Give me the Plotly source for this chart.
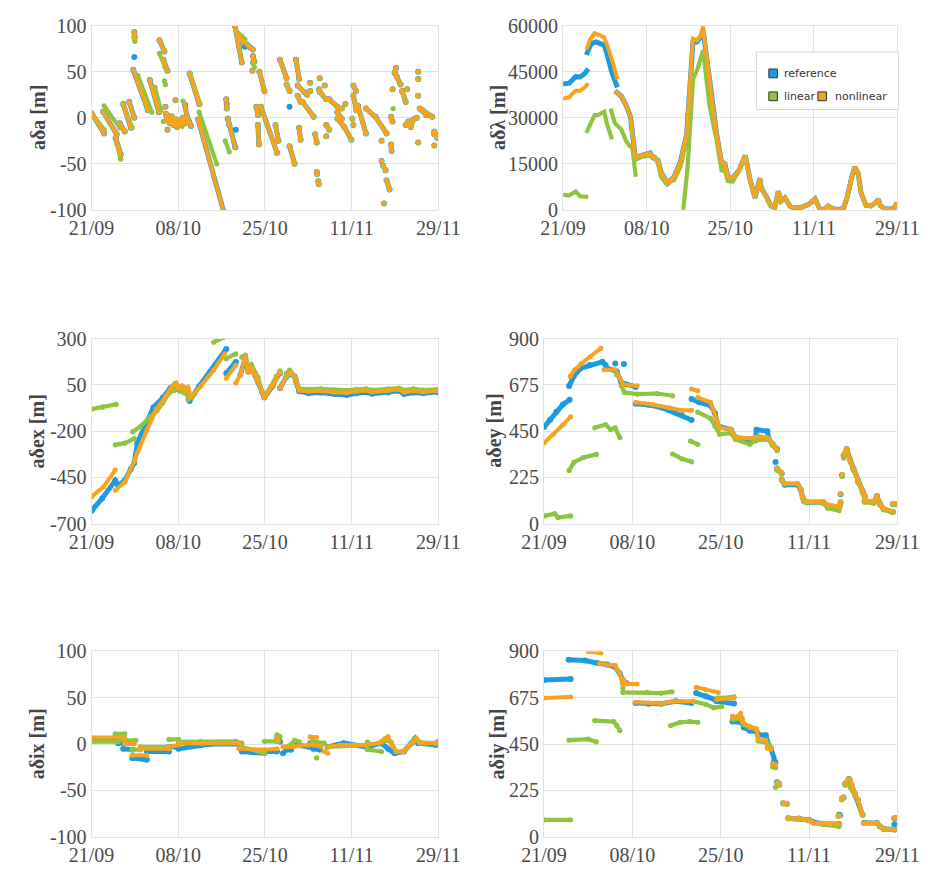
import pandas as pd
import plotly.graph_objects as go

# ---------------------------------------------------------------------------
# Orbit-element differences (days since 21/09, value in metres).
# Each series is a list of segments; a segment is a list of (day, value) pairs.
# ---------------------------------------------------------------------------

# --- a·δa -------------------------------------------------------------------
ada_ref_nonlin = [
    [(0, 5), (2.5, -17)],
    [(2.3, 6.5), (5, -18)],
    [(4.8, -22), (5.8, -40)],
    [(5.6, -6), (6.6, -15)],
    [(6.3, 15), (7.8, -11)],
    [(7.5, 17), (8.5, 0)],
    [(8.5, 93), (8.6, 87)],
    [(8.3, 52), (11.2, 8)],
    [(11.6, 41), (13.4, 6)],
    [(13.5, 84), (14.5, 72)],
    [(14.3, 63), (15.1, 51)],
    [(14.8, 4), (15.0, -3), (15.3, 2), (15.6, -6), (16.0, 1), (16.3, -8), (16.7, -2),
     (17.0, -10), (17.4, -3), (17.8, -7), (18.2, 0), (18.6, -6), (19.0, 2), (19.4, -4), (19.8, -9)],
    [(18.6, 14), (19.1, -4)],
    [(15.1, -13)], [(16.7, 19)], [(14.7, 12)],
    [(19.5, 48), (21.4, 15)],
    [(21.2, -2), (26.3, -102)],
    [(26.8, 20), (26.9, 10)],
    [(27.1, -1), (27.4, -8), (28.6, -32)],
    [(28.5, 100), (29.3, 78), (29.9, 60)],
    [(29.3, 88), (29.8, 84), (30.4, 82), (31.0, 79), (31.6, 76), (32.1, 74)],
    [(32.1, 67), (32.4, 61)],
    [(32.0, 51)],
]
ada_all = [
    [(33.4, 50), (34.4, 29)],
    [(32.8, 12), (33.1, 3)],
    [(33.1, -8), (33.3, -29)],
    [(33.7, 12), (36.9, -38)],
    [(36.6, -8), (37.2, -25)],
    [(37.5, 63), (38.8, 43)],
    [(38.8, 36), (39.4, 29)],
    [(39.4, -31), (40.4, -50)],
    [(40.7, 63), (41.3, 42)],
    [(41.0, 35), (42.3, 28)],
    [(41.0, 24), (41.6, 17)],
    [(41.3, -11), (41.6, -24)],
    [(42.0, 17), (44.2, 1)],
    [(42.9, 25)], [(43.5, 38)], [(43.5, 29)],
    [(44.5, -18), (44.8, -27)],
    [(44.8, -59), (44.9, -61)],
    [(45.1, -69), (45.2, -72)],
    [(45.4, 43)], [(45.3, 31)], [(46.4, 35)],
    [(45.4, 28), (46.7, 20)],
    [(46.7, -8), (47.3, -13)], [(46.7, -20)],
    [(47.3, 20), (48.9, 12)],
    [(48.9, 6), (49.8, -1)],
    [(49.8, 10)],
    [(48.9, -1), (50.3, -10), (51.7, -24)],
    [(50.5, 15)],
    [(52.1, 35), (52.6, 29)],
    [(52.1, 24), (52.7, 8)],
    [(51.9, -1)], [(52.1, -8)],
    [(53.0, 13), (54.6, -17)],
    [(54.6, 10), (56.5, 1), (58.7, -17)],
    [(57.7, -25)], [(57.7, -47)], [(58.0, -52)], [(58.5, -57)],
    [(58.7, -68), (59.3, -78)],
    [(58.2, -93)],
    [(59.6, 1), (59.9, -4)],
    [(59.6, -29), (59.7, -36)],
    [(59.9, 31)],
    [(60.3, 49), (60.8, 44), (61.5, 36)],
    [(60.6, 54)],
    [(61.8, 29), (62.5, 17)],
    [(62.8, 31)],
    [(62.5, -8), (63.0, -4), (63.5, -10), (64.0, -2), (64.7, 0)],
    [(65.0, 50)], [(65.0, 42)], [(65.0, 24)],
    [(65.3, 10), (66.6, 3)],
    [(65.9, 8), (67.8, 1)],
    [(65.0, -27)], [(68.2, -30)], [(68.2, -18)],
    [(68.2, -15), (68.8, -22)],
]
ada_linear_own = [
    [(0, 5), (2.5, -13)],
    [(2.5, 13), (5.6, -11)],
    [(5.0, -28), (5.8, -45)],
    [(6.6, 10), (8.1, -11)],
    [(8.4, 88), (8.6, 83)],
    [(9.2, 46), (12.0, 6)],
    [(12.6, 33), (13.8, 8)],
    [(13.5, 70), (14.6, 55)],
    [(14.5, 40), (14.7, 36)],
    [(14.3, -4)],
    [(15, 0), (15.5, -4), (16, 2), (16.5, -6), (17, -2), (17.5, -5), (18, -9), (18.5, -3), (19, -5)],
    [(18.2, 18)],
    [(19.6, 48), (21.6, 15)],
    [(21.4, 6), (24.9, -50)],
    [(26.6, -25), (27.4, -37)],
    [(28.7, 95), (30.0, 88), (30.5, 85)],
    [(32.0, 60), (32.4, 55)],
    [(60.0, 10)],
]
ada_reference_own = [[(8.5, 66)], [(28.7, -13)], [(30.5, 77)], [(39.4, 12)], [(26.9, 15)]]

# --- a·δλ -------------------------------------------------------------------
adl_reference_start = [
    [(0, 40945), (1.25, 41260), (2.6, 43380), (3.5, 43270), (4.5, 44440), (5.2, 45920)],
    [(4.8, 50470), (5.8, 54170), (6.8, 54700), (8.1, 54170), (8.5, 53640), (9.1, 50470),
     (10.1, 44650), (11.2, 39890)],
]
adl_nonlinear_start = [
    [(0, 36180), (1.25, 36710), (2.6, 38830), (3.5, 38830), (4.5, 39890), (5.2, 41260)],
    [(4.85, 52270), (5.5, 55230), (6.5, 57560), (7.5, 56800), (8.4, 56280), (9.1, 53640),
     (10.1, 48880), (11.2, 42530)],
]
adl_rise = [(10.7, 38800), (12.05, 37000), (13.0, 34070), (13.9, 30360), (14.9, 17140),
            (16.3, 17880), (18.0, 18500), (18.4, 17140), (19.6, 16080), (20.2, 12380),
            (21.6, 8680), (22.9, 10800), (24.2, 15550), (25.5, 24550)]
adl_reference_peak = [(26.8, 54700), (27.6, 54700), (28.4, 56300), (28.9, 58600), (29.8, 46760)]
adl_nonlinear_peak = [(26.8, 55760), (27.6, 55230), (28.4, 56800), (28.9, 59670), (29.8, 46760)]
adl_fall = [(30.7, 36180), (31.7, 24550), (32.7, 15550), (33.4, 15020), (34.0, 10580),
            (35.0, 10260), (36.3, 12910)]
adl_tail = [(37.6, 17670), (38.6, 9730), (39.6, 3910), (40.6, 10260), (40.9, 7090),
            (41.9, 4440), (42.9, 1270), (43.7, 740), (44.4, 6030), (45.0, 2860), (45.8, 3910),
            (46.8, 1270), (47.4, 740), (49.1, 740), (50.7, 1800), (52.0, 3600), (53.0, 210),
            (53.7, 0), (54.7, 1270), (55.6, 420), (56.9, 0), (57.9, 740), (58.6, 3910),
            (59.6, 10800), (60.2, 13960), (60.9, 11850), (61.5, 5500), (62.5, 1480),
            (63.5, 1270), (64.5, 2330), (65.1, 3390), (65.5, 1270), (66.4, 420), (67.4, 210),
            (68.4, 740), (68.9, 2330)]
adl_linear = [
    [(0, 4970), (1.2, 4650), (2.6, 6030), (3.5, 4440), (5.2, 4230)],
    [(4.8, 25070), (5.5, 27720), (6.5, 30890), (7.2, 30890), (7.8, 31420), (8.5, 31950),
     (9.1, 27720), (10.1, 22960)],
    [(9.8, 33000), (10.7, 28250), (12.05, 26130), (13.0, 22430), (13.7, 20840), (14.3, 20310),
     (15.0, 10800)],
    [(14.7, 16080), (16.3, 17350), (18.0, 17670), (18.9, 17350), (19.6, 15020), (20.2, 10800),
     (21.2, 8680), (22.9, 9730), (24.2, 13960), (25.2, 20840)],
    [(24.8, 0), (25.7, 13960), (26.8, 42530), (27.7, 45700), (28.9, 52050), (29.4, 45700),
     (30.2, 34070), (31.7, 22500), (32.7, 12900), (33.4, 12800), (34.0, 9400), (35.0, 9200),
     (36.3, 12600)],
]

# --- a·δex ------------------------------------------------------------------
adex_reference = [
    [(0, -630), (2.1, -563), (4.7, -467), (5.3, -493), (6.6, -467), (7.8, -405), (8.5, -370),
     (9.1, -265), (10.7, -160), (12.3, -72), (14.2, -19), (15.7, 33), (16.7, 54), (17.3, 25),
     (18.0, 40), (18.6, 16), (19.0, 30), (19.5, -37), (21.4, 42), (23.6, 121), (26.8, 244)],
    [(26.8, 112), (28.7, 174)],
    [(29.6, 104), (30.6, 195), (31.2, 121), (31.8, 139), (32.5, 104), (33.1, 69), (34.0, 7),
     (34.4, -19), (36.0, 42), (36.9, 95), (37.5, 112)],
    [(37.5, 33), (38.8, 95), (39.7, 112), (40.4, 95), (40.7, 68), (41.3, 16), (43.2, 5),
     (45.6, 8), (48.3, 0), (50.8, -5), (52.7, 5), (54.6, 10), (55.8, 2), (59.0, 8), (61.2, 18),
     (62.2, 0), (64.1, 8), (66.0, 5), (68.9, 12)],
]
adex_linear = [
    [(0, -81), (2.2, -70), (4.9, -55)],
    [(4.7, -274), (6.6, -265), (8.5, -240)],
    [(8.2, -203), (9.7, -175), (11.6, -124), (13.0, -90), (14.2, -45), (15.4, 5), (16.4, 20),
     (17.1, 35), (17.7, 15), (18.6, 5), (19.2, -10)],
    [(19.2, -30), (20.5, 0)],
    [(24.3, 280), (26.2, 305)],
    [(26.8, 191), (28.7, 218)],
    [(29.9, 200), (30.6, 210)],
    [(30.6, 205), (31.2, 140), (31.8, 160), (32.5, 115), (33.1, 90), (34.0, 10), (34.4, -10)],
    [(34.6, -5), (36.3, 68), (37.5, 125)],
    [(38.8, 112), (39.4, 130)],
    [(39.7, 115), (40.7, 80), (41.3, 30), (43.2, 25), (45.6, 28), (48.3, 22), (50.8, 20),
     (52.7, 25), (54.6, 28), (55.8, 22), (59.0, 28), (61.2, 32), (62.2, 22), (64.1, 28),
     (66.0, 22), (68.9, 25)],
]
adex_nonlinear = [
    [(0, -554), (2.4, -500), (4.7, -410)],
    [(4.7, -519), (6.6, -475), (8.5, -361), (9.1, -317), (11.0, -195), (12.9, -81), (14.8, -11),
     (16.0, 42), (16.8, 58), (17.3, 30), (18.0, 45), (18.6, 20), (19.2, 35), (19.8, -19),
     (21.7, 42), (24.3, 130), (26.5, 218)],
    [(26.8, 86), (28.7, 156)],
    [(28.7, 60), (29.6, 104), (30.6, 200), (31.2, 121), (31.8, 139), (32.5, 104), (33.1, 69),
     (34.0, 7), (34.4, -19), (36.0, 45), (36.9, 95), (37.5, 115)],
    [(37.5, 33), (38.8, 95), (39.7, 115), (40.4, 95), (40.7, 68), (41.3, 20), (43.2, 15),
     (45.6, 18), (48.3, 10), (50.8, 8), (52.7, 15), (54.6, 20), (55.8, 12), (59.0, 18),
     (61.2, 25), (62.2, 10), (64.1, 18), (66.0, 12), (68.9, 18)],
]

# --- a·δey ------------------------------------------------------------------
adey_reference = [
    [(0, 470), (1.2, 505), (2.4, 544), (3.7, 580), (5.0, 602)],
    [(4.9, 669), (5.8, 717), (7.1, 755), (8.9, 771), (11.4, 787), (12.0, 771)],
    [(13.9, 779)], [(15.6, 776)],
    [(12.3, 756), (14.2, 740), (15.1, 685), (16.1, 677), (17.9, 665)],
    [(17.9, 583), (20.4, 578), (22.9, 565), (24.4, 551), (26.9, 528), (28.8, 504)],
    [(28.8, 606), (30.3, 590), (32.5, 575), (33.4, 536), (34.0, 474), (36.5, 457), (37.4, 418),
     (40.2, 410), (41.2, 405), (41.5, 457), (43.6, 449), (43.9, 410), (44.6, 387), (45.5, 363)],
    [(45.2, 300)],
    [(45.5, 269), (46.4, 245)],
    [(46.4, 214), (47.0, 190), (49.5, 190), (50.1, 167), (50.5, 127), (50.8, 111), (51.4, 104),
     (54.5, 104), (55.4, 88), (57.6, 80), (57.9, 104)],
    [(57.9, 143)], [(58.2, 237)],
    [(58.5, 331), (59.1, 363), (59.8, 308), (60.4, 269), (61.3, 206), (62.2, 159), (62.6, 135),
     (62.6, 111), (64.4, 104), (65.0, 135), (65.6, 96), (66.3, 72), (68.1, 57)],
    [(68.1, 96), (69, 96)],
]
adey_linear = [
    [(0, 38), (2.1, 49), (2.7, 30), (5.2, 38)],
    [(4.9, 259), (5.8, 298), (7.7, 322), (10.2, 337)],
    [(9.9, 466), (12.0, 482), (13.0, 458), (13.9, 466), (14.8, 419)],
    [(14.2, 724)],
    [(15.1, 670), (15.7, 638), (18.2, 630), (22.0, 633), (25.1, 622)],
    [(25.1, 339), (26.9, 316), (28.8, 301)],
    [(28.6, 402), (30.0, 386)],
    [(30.0, 543), (32.5, 512), (33.4, 474), (34.3, 435), (36.5, 440), (37.4, 410), (40.2, 386),
     (41.2, 405), (43.9, 410), (44.6, 380), (45.5, 355)],
    [(45.5, 260), (46.4, 240)],
    [(46.4, 214), (47.0, 195), (49.5, 195), (50.1, 170), (50.5, 125), (51.0, 105), (54.5, 100),
     (55.4, 75), (57.6, 64), (57.9, 90)],
    [(58.2, 230)],
    [(58.5, 320), (59.1, 350), (59.8, 300), (60.4, 260), (61.3, 200), (62.2, 150), (62.6, 125),
     (62.6, 105), (64.4, 100), (65.0, 125), (65.6, 90), (66.3, 68), (68.1, 55)],
    [(68.1, 92), (69, 92)],
]
adey_nonlinear = [
    [(0, 392), (1.8, 434), (3.7, 481), (5.2, 520)],
    [(5.1, 716), (6.0, 748), (7.3, 779), (9.0, 810), (11.1, 853)],
    [(11.7, 748), (13.9, 748), (14.8, 709), (15.4, 677), (18.2, 670)],
    [(17.9, 590), (21.3, 579), (24.4, 564), (26.9, 551), (28.8, 551)],
    [(28.8, 655), (30.0, 646)],
    [(30.0, 614), (32.5, 590), (33.1, 551), (33.7, 504), (34.3, 465), (36.5, 460), (37.4, 420),
     (40.2, 415), (41.2, 420), (42.0, 425), (43.6, 418), (43.9, 412), (44.6, 390), (45.5, 365)],
    [(45.5, 270), (46.4, 250)],
    [(46.4, 216), (47.0, 194), (49.5, 194), (50.1, 170), (50.5, 130), (50.8, 114), (51.4, 108),
     (54.5, 108), (55.4, 92), (57.6, 84), (57.9, 108)],
    [(57.9, 145)], [(58.2, 240)],
    [(58.5, 335), (59.1, 365), (59.8, 310), (60.4, 272), (61.3, 208), (62.2, 160), (62.6, 138),
     (62.6, 114), (64.4, 108), (65.0, 138), (65.6, 98), (66.3, 74), (68.1, 60)],
    [(68.1, 99), (69, 99)],
]

# --- a·δix ------------------------------------------------------------------
adix_reference = [
    [(0, 4), (5.3, 4)],
    [(5.3, 1), (6.6, 1)],
    [(6.3, -5), (8.1, -6)],
    [(8.1, -15), (11, -17)],
    [(11, -8), (15.4, -8)],
    [(15.4, -3), (16.7, -3)],
    [(17.3, -5), (21.7, -1), (23.6, 0), (29.3, 0)],
    [(29.9, -8), (34.4, -10)],
    [(34.4, -8), (36.9, -8)],
    [(36.9, 6), (37.5, 2.5)],
    [(38.1, -10)],
    [(38.8, -6), (39.7, -6)],
    [(40.4, -1), (43.2, -3), (43.5, 1)],
    [(44.1, -5), (45.4, -6)],
    [(47, -3), (48.9, -1), (50.2, 1), (54.6, -3), (55.8, -1), (57.7, 1), (59, -5), (60.3, -10),
     (62.2, -8), (63.7, 1), (64.4, 6), (65, 1), (68.5, -1), (69, 2)],
]
adix_linear = [
    [(0, 2.5), (5.3, 2.5)],
    [(4.7, 11), (6.6, 11)],
    [(6.3, 4), (8.8, 4)],
    [(8.1, -6), (9.7, -6)],
    [(9.7, -3), (15.4, -3)],
    [(15.4, 5), (17.3, 5)],
    [(17.3, 2.5), (21.7, 3), (28.7, 3), (29.9, 1)],
    [(29.9, -3), (34.4, -10)],
    [(34.4, 3), (36.9, 3)],
    [(36.9, 10), (37.5, 8)],
    [(38.8, -3), (40.0, 1)],
    [(40.4, 4), (41.3, 2.5)],
    [(44.8, -15)],
    [(43.9, 3), (46.3, 1)],
    [(47, -3), (54.6, -1), (54.9, 2)],
    [(54.9, -6), (57.7, -8)],
    [(57.7, 2), (59, 4), (59.6, 2), (60.6, -8), (62.2, -8), (64.4, 6), (65.3, 2), (68.5, 1),
     (69, 3)],
]
adix_nonlinear = [
    [(0, 7), (6.6, 7)],
    [(6.6, 0), (8.5, 0)],
    [(8.1, -12), (11, -12)],
    [(9.7, -5), (15.4, -5)],
    [(15.4, -3), (17.3, -1)],
    [(17.3, 1), (21.7, 1), (29.3, 1)],
    [(29.3, -5), (34.4, -6), (36.9, -5)],
    [(36.9, 6), (37.2, 3)],
    [(38.1, -3), (40, -3), (43.2, -1)],
    [(43.5, 8), (44.8, 7)],
    [(44.1, -1), (45.7, -3)],
    [(46.3, -8), (47, -10)],
    [(47.3, -3), (49.5, -1), (54.6, -1), (57.1, 1), (58.4, 6), (59, 8), (59.6, 1), (60.6, -8),
     (62.2, -8), (64.1, 3), (64.7, 6), (65.3, 1), (68.5, 1), (69, 3)],
]

# --- a·δiy ------------------------------------------------------------------
adiy_reference = [
    [(0, 761), (5.2, 766)],
    [(4.8, 860), (8.0, 856), (10.5, 843), (12.3, 837), (13.9, 824), (14.8, 793), (15.4, 761),
     (16.1, 745)],
    [(17.9, 650), (20.4, 646), (22.9, 646), (25.7, 658), (28.8, 650)],
    [(29.7, 698), (31.6, 682), (33.4, 666)],
    [(33.7, 658), (37.1, 647)],
    [(36.8, 560), (38.7, 555), (39.0, 530), (40.2, 515), (41.5, 510), (41.8, 495), (43.3, 493),
     (43.6, 461), (44.3, 429), (44.9, 366), (45.2, 359)],
    [(45.5, 264), (45.8, 260)],
    [(46.7, 163), (47.4, 160)],
    [(47.7, 90), (49.8, 88), (51.7, 82), (52.6, 70), (54.5, 63), (57.6, 62)],
    [(57.6, 106), (57.8, 104)],
    [(58.2, 185), (58.5, 190)],
    [(58.8, 256), (59.5, 280), (60.1, 245), (60.7, 208), (61.3, 177), (62.2, 106)],
    [(62.5, 68), (65.0, 66), (65.6, 50), (66.3, 38), (68.4, 35)],
    [(68.4, 60)],
    [(68.4, 90), (69, 90)],
]
adiy_linear = [
    [(0, 82), (5.2, 82)],
    [(4.9, 469), (8.6, 474), (10.2, 461)],
    [(9.9, 564), (13.6, 559), (14.2, 540), (14.8, 516)],
    [(15.3, 748)], [(15.4, 722)],
    [(15.4, 701), (20.1, 701), (22.9, 698), (25.0, 704)],
    [(24.7, 540), (26.6, 556), (28.5, 559), (30.0, 556)],
    [(29.1, 658), (31.6, 643), (33.1, 627), (34.7, 632)],
    [(34.0, 674), (37.1, 679)],
    [(36.8, 570), (38.7, 575), (39.0, 545), (40.2, 530), (41.5, 520), (41.8, 465), (43.6, 455),
     (44.0, 445), (44.3, 430)],
    [(44.6, 340), (45.2, 335)],
    [(45.2, 240)],
    [(45.5, 250), (46.0, 250)],
    [(46.7, 160), (47.4, 158)],
    [(47.7, 88), (49.8, 85), (51.7, 78), (52.6, 65), (54.5, 60), (57.6, 50)],
    [(57.4, 100), (57.6, 100)],
    [(58.1, 180), (58.4, 185)],
    [(58.8, 250), (59.3, 262), (59.8, 240), (60.2, 225), (60.7, 200), (61.3, 175), (62.2, 105)],
    [(62.5, 65), (65.0, 64), (65.6, 50), (66.3, 35), (68.4, 33)],
]
adiy_nonlinear = [
    [(0, 674), (5.2, 679)],
    [(8.6, 900), (11.1, 892)],
    [(10.8, 840), (13.9, 832), (14.2, 816), (14.8, 793), (15.1, 770), (15.4, 764), (16.1, 742)],
    [(15.4, 742), (18.2, 742)],
    [(17.9, 653), (22.9, 647), (25.4, 658), (29.1, 658)],
    [(29.7, 726), (31.6, 714), (34.0, 701)],
    [(33.7, 666), (37.1, 674)],
    [(36.8, 585), (37.5, 580), (38.4, 600), (38.7, 560), (39.6, 540), (40.2, 535), (41.5, 525),
     (41.8, 470), (43.3, 468), (43.6, 430), (44.3, 425)],
    [(44.6, 355), (45.2, 350)],
    [(45.5, 262), (46.0, 260)],
    [(46.7, 165), (47.4, 163)],
    [(47.7, 92), (49.8, 88), (51.7, 82), (52.6, 68), (54.5, 64), (57.6, 62)],
    [(57.4, 100), (57.7, 102)],
    [(58.1, 185), (58.5, 193)],
    [(58.8, 256), (59.3, 280), (59.8, 280), (60.2, 245), (60.7, 210), (61.3, 180), (62.2, 108)],
    [(62.5, 68), (65.0, 66), (65.6, 52), (66.3, 38), (68.4, 36)],
    [(68.2, 90), (69, 90)],
]

# Axis ticks
date_ticks_days = [0, 17.25, 34.5, 51.75, 69]
yticks_ada = [-100, -50, 0, 50, 100]
yticks_adl = [0, 15000, 30000, 45000, 60000]
yticks_adex = [-700, -450, -200, 50, 300]
yticks_adey = [0, 225, 450, 675, 900]
yticks_adix = [-100, -50, 0, 50, 100]
yticks_adiy = [0, 225, 450, 675, 900]

series_names = ["reference", "linear", "nonlinear"]
colors = {"reference": "#1c9be0", "linear": "#8dc540", "nonlinear": "#f6a31f"}
line_widths = {"reference": 5.0, "linear": 4.2, "nonlinear": 4.0}

# ---------------------------------------------------------------------------
BASE = pd.Timestamp("2019-09-21")
W, H = 948, 874
SERIF = "Liberation Serif"


def day_to_date(d):
    return (BASE + pd.Timedelta(days=d)).strftime("%Y-%m-%d %H:%M:%S")


def flatten(segments):
    xs, ys = [], []
    for seg in segments:
        for d, v in seg:
            xs.append(day_to_date(d))
            ys.append(v)
        xs.append(None)
        ys.append(None)
    return xs, ys


panels = [
    dict(title="aδa [m]", ticks=yticks_ada, mode="lines+markers",
         data={"reference": ada_ref_nonlin + ada_all + ada_reference_own,
               "linear": ada_linear_own + ada_all,
               "nonlinear": ada_ref_nonlin + ada_all}),
    dict(title="aδλ [m]", ticks=yticks_adl, mode="lines",
         data={"reference": adl_reference_start + [adl_rise + adl_reference_peak + adl_fall + adl_tail],
               "linear": adl_linear + [[(36.3, 12600)] + adl_tail],
               "nonlinear": adl_nonlinear_start + [adl_rise + adl_nonlinear_peak + adl_fall + adl_tail]}),
    dict(title="aδex [m]", ticks=yticks_adex, mode="lines+markers",
         data={"reference": adex_reference, "linear": adex_linear, "nonlinear": adex_nonlinear}),
    dict(title="aδey [m]", ticks=yticks_adey, mode="lines+markers",
         data={"reference": adey_reference, "linear": adey_linear, "nonlinear": adey_nonlinear}),
    dict(title="aδix [m]", ticks=yticks_adix, mode="lines+markers",
         data={"reference": adix_reference, "linear": adix_linear, "nonlinear": adix_nonlinear}),
    dict(title="aδiy [m]", ticks=yticks_adiy, mode="lines+markers",
         data={"reference": adiy_reference, "linear": adiy_linear, "nonlinear": adiy_nonlinear}),
]

# plot-area pixel boxes: (left, right, top, bottom)
boxes = [
    (72, 436, 15, 204), (567, 918, 15, 204),
    (72, 436, 336, 526), (547, 918, 336, 526),
    (72, 436, 657, 847), (547, 918, 657, 847),
]
title_x = [15, 498, 15, 495, 15, 498]

fig = go.Figure()
grid = "#e2e2e2"
layout = dict(
    width=W, height=H, margin=dict(l=0, r=0, t=0, b=0),
    paper_bgcolor="white", plot_bgcolor="white", showlegend=False,
    annotations=[], shapes=[],
)

for i, (p, box) in enumerate(zip(panels, boxes)):
    n = i + 1
    xa = "x" if n == 1 else f"x{n}"
    ya = "y" if n == 1 else f"y{n}"
    for name in series_names:
        xs, ys = flatten(p["data"][name])
        w = line_widths[name]
        fig.add_trace(go.Scatter(
            x=xs, y=ys, mode=p["mode"], name=name, xaxis=xa, yaxis=ya,
            line=dict(color=colors[name], width=w),
            marker=dict(color=colors[name], size=w + 1.0),
        ))
    l, r, t, b = box
    lo, hi = p["ticks"][0], p["ticks"][-1]
    layout[f"xaxis{'' if n == 1 else n}"] = dict(
        domain=[l / W, r / W], anchor=ya, type="date",
        range=[day_to_date(0), day_to_date(69)],
        tickvals=[day_to_date(d) for d in date_ticks_days], tickformat="%d/%m",
        showgrid=True, gridcolor=grid, gridwidth=1, zeroline=False,
        showline=True, mirror=True, linecolor=grid, linewidth=1,
        tickfont=dict(family=SERIF, size=20, color="#4a4a4a"),
    )
    layout[f"yaxis{'' if n == 1 else n}"] = dict(
        domain=[1 - b / H, 1 - t / H], anchor=xa, range=[lo, hi],
        tickvals=p["ticks"], ticktext=[str(v) for v in p["ticks"]],
        showgrid=True, gridcolor=grid, gridwidth=1, zeroline=False,
        showline=True, mirror=True, linecolor=grid, linewidth=1,
        tickfont=dict(family=SERIF, size=20, color="#4a4a4a"),
    )
    layout["annotations"].append(dict(
        text=p["title"], xref="paper", yref="paper",
        x=title_x[i] / W, y=1 - (t + b) / 2 / H, xanchor="center", yanchor="middle",
        textangle=-90, showarrow=False,
        font=dict(family=SERIF, size=20, color="#444444", weight="bold"),
    ))

# legend box inside the aδλ panel
def px_rect(x0, y0, x1, y1, **kw):
    return dict(type="rect", xref="paper", yref="paper", x0=x0 / W, x1=x1 / W,
                y0=1 - y1 / H, y1=1 - y0 / H, layer="above", **kw)


layout["shapes"].append(px_rect(770, 42, 919, 101, line=dict(color="#d6d6d6", width=1),
                                fillcolor="white"))
legend_items = [("reference", 787.5, 64, 797), ("linear", 787.5, 87.5, 797),
                ("nonlinear", 839, 87.5, 850)]
for name, cx, cy, tx in legend_items:
    layout["shapes"].append(px_rect(cx - 4.5, cy - 4.5, cx + 4.5, cy + 4.5,
                                    line=dict(color="#333333", width=1),
                                    fillcolor=colors[name]))
    layout["annotations"].append(dict(
        text=name, xref="paper", yref="paper", x=tx / W, y=1 - cy / H,
        xanchor="left", yanchor="middle", showarrow=False,
        font=dict(family="DejaVu Sans", size=11, color="#333333"),
    ))

fig.update_layout(**layout)
fig.write_html("out.html")
